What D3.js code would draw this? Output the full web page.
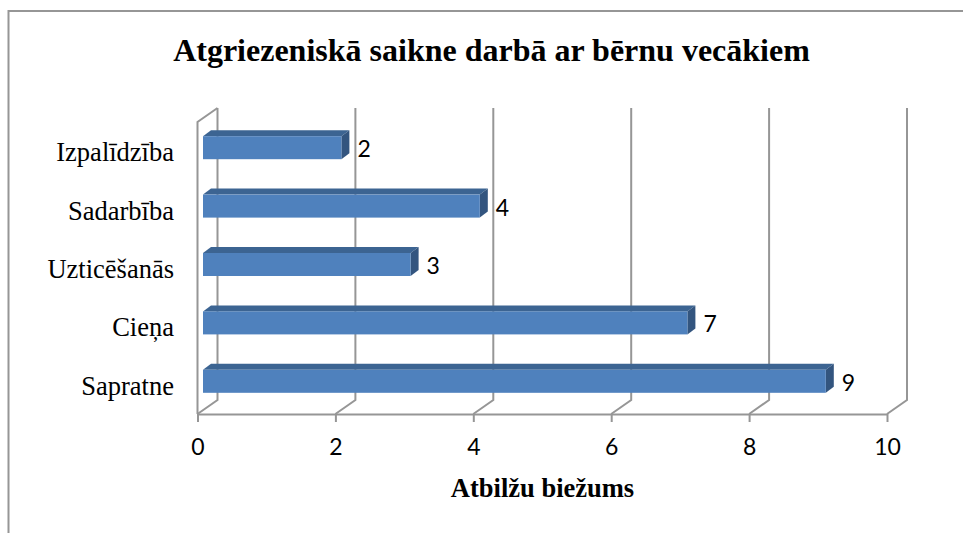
<!DOCTYPE html>
<html>
<head>
<meta charset="utf-8">
<script src="https://cdn.jsdelivr.net/npm/d3@7"></script>
<style>
  html, body {margin: 0; padding: 0; background: #fff;}
  svg {display: block;}
  .title {font: bold 32px "Liberation Serif", serif; fill: #000;}
  .x-title {font: bold 26.5px "Liberation Serif", serif; fill: #000;}
  .cat {font: 26.5px "Liberation Serif", serif; fill: #000;}
  .val, .x.axis text {font: 23px Lato, sans-serif; fill: #000;}
</style>
</head>
<body>
<svg id="chart" width="963" height="533"></svg>
<script>
var categories = ["Izpalīdzība", "Sadarbība", "Uzticēšanās", "Cieņa", "Sapratne"];
var counts = [2, 4, 3, 7, 9];
var xTicks = [0, 2, 4, 6, 8, 10];

var gray = "#969696";
var depthX = 20, depthY = 14;     // 3d wall offset
var barDepthX = 8, barDepthY = 6; // 3d bar offset

var svg = d3.select("#chart");

// chart frame, only top and left edges are visible in the picture
svg.append("path")
  .attr("d", "M8.5,533V11H963")
  .attr("fill", "none")
  .attr("stroke", gray)
  .attr("stroke-width", 2);

var x = d3.scaleLinear().domain([0, 10]).range([197.5, 887]);
// bars sit a bit in front of the floor so they get their own scale
var xBar = d3.scaleLinear().domain([0, 10]).range([203, 895]);
var y = d3.scaleBand().domain(categories).range([122, 414]);

// back wall gridlines and floor
var grid = svg.append("g").attr("fill", "none").attr("stroke", gray).attr("stroke-width", 2);
grid.selectAll("path")
  .data(xTicks)
  .enter().append("path")
  .attr("d", function (d) {
    var px = x(d);
    return "M" + px + ",414L" + (px + depthX) + "," + (414 - depthY) + "V" + (122 - depthY);
  });

// left wall front edge
grid.append("path")
  .attr("d", "M" + x(0) + ",414V122L" + (x(0) + depthX) + "," + (122 - depthY));

// bars: front, top and side faces
var barH = 23;
var bars = svg.selectAll(".bar")
  .data(categories)
  .enter().append("g")
  .attr("class", "bar");

function barTop(d) {return y(d) + y.bandwidth() / 2 - 15;}
function barEnd(i) {return xBar(counts[i]);}

bars.append("path")
  .attr("fill", "#3c6492")
  .attr("d", function (d, i) {
    var t = barTop(d), e = barEnd(i);
    return "M" + xBar(0) + "," + t + "L" + (xBar(0) + barDepthX) + "," + (t - barDepthY) +
      "H" + (e + barDepthX) + "L" + e + "," + t + "Z";
  });

bars.append("path")
  .attr("fill", "#33557f")
  .attr("d", function (d, i) {
    var t = barTop(d), e = barEnd(i);
    return "M" + e + "," + t + "L" + (e + barDepthX) + "," + (t - barDepthY) +
      "V" + (t - barDepthY + barH) + "L" + e + "," + (t + barH) + "Z";
  });

bars.append("rect")
  .attr("fill", "#4f81bd")
  .attr("x", xBar(0))
  .attr("y", function (d) {return barTop(d);})
  .attr("width", function (d, i) {return barEnd(i) - xBar(0);})
  .attr("height", barH);

// value labels
bars.append("text")
  .attr("class", "val")
  .attr("x", function (d, i) {return barEnd(i) + 16;})
  .attr("y", function (d) {return barTop(d) + 21;})
  .text(function (d, i) {return counts[i];});

// category labels
svg.selectAll(".cat")
  .data(categories)
  .enter().append("text")
  .attr("class", "cat")
  .attr("text-anchor", "end")
  .attr("x", 174)
  .attr("y", function (d) {return y(d) + y.bandwidth() / 2 + 10;})
  .text(function (d) {return d;});

// x axis
var xAxis = d3.axisBottom(x).tickValues(xTicks).tickSize(8).tickPadding(17).tickSizeOuter(0);
var axisG = svg.append("g")
  .attr("class", "x axis")
  .attr("transform", "translate(0,414)")
  .call(xAxis);
axisG.select(".domain").attr("stroke", gray).attr("stroke-width", 2);
axisG.selectAll("line").attr("stroke", gray).attr("stroke-width", 2);

// titles
svg.append("text")
  .attr("class", "title")
  .attr("text-anchor", "middle")
  .attr("x", 491.5)
  .attr("y", 61)
  .text("Atgriezeniskā saikne darbā ar bērnu vecākiem");

svg.append("text")
  .attr("class", "x-title")
  .attr("text-anchor", "middle")
  .attr("x", 542.5)
  .attr("y", 497)
  .text("Atbilžu biežums");
</script>
</body>
</html>
